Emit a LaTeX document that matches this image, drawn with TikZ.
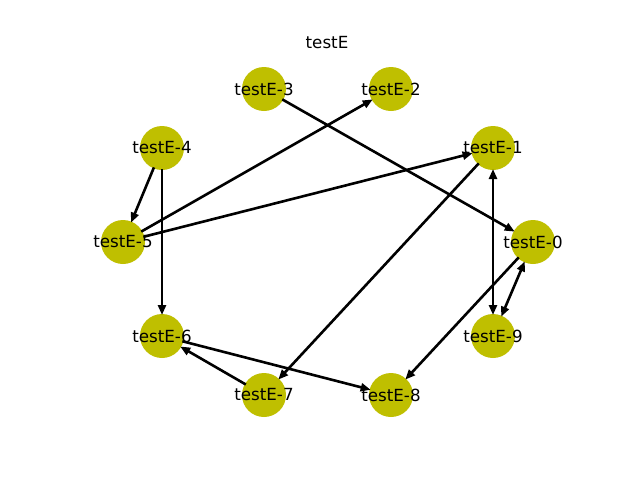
\documentclass[tikz,border=0pt]{standalone}
\usepackage{fontspec}
\setmainfont{DejaVu Sans}
\usetikzlibrary{arrows.meta}
\definecolor{nodey}{rgb}{0.75,0.75,0}
\tikzset{
  gnode/.style={circle, fill=nodey, minimum size=44pt, inner sep=0pt},
  glabel/.style={inner sep=0pt, font=\fontsize{16.7}{20}\selectfont},
  tip/.style={Triangle[length=10pt,width=8pt]},
  edge/.style={line width=2.6pt, -{Triangle[length=10pt,width=8pt]}, shorten >=21pt, shorten <=21pt},
  bedge/.style={line width=2.6pt, {Triangle[length=10pt,width=8pt]}-{Triangle[length=10pt,width=8pt]}, shorten >=21pt, shorten <=21pt}
}
\begin{document}
\begin{tikzpicture}[x=1pt,y=-1pt]
\useasboundingbox (0,0) rectangle (640,480);
\node[glabel] (title) at (327,43) {testE};
\coordinate (c0) at (533,242);
\coordinate (c1) at (493,148);
\coordinate (c2) at (391,89);
\coordinate (c3) at (264,89);
\coordinate (c4) at (162,148);
\coordinate (c5) at (123,242);
\coordinate (c6) at (162,336);
\coordinate (c7) at (264,395);
\coordinate (c8) at (391,395);
\coordinate (c9) at (493,336);
\foreach \i in {0,...,9} {
  \node[gnode] (n\i) at (c\i) {};
}
\draw[edge] (c3) -- (c0);
\draw[edge] (c5) -- (c2);
\draw[edge] (c5) -- (c1);
\draw[edge] (c4) -- (c5);
\draw[edge] (c4) -- (c6);
\draw[edge] (c1) -- (c7);
\draw[bedge] (c1) -- (c9);
\draw[bedge] (c0) -- (c9);
\draw[edge] (c0) -- (c8);
\draw[edge] (c6) -- (c8);
\draw[edge] (c7) -- (c6);
\foreach \i in {0,...,9} {
  \node[glabel] (l\i) at (c\i) {testE-\i};
}
\end{tikzpicture}
\end{document}
